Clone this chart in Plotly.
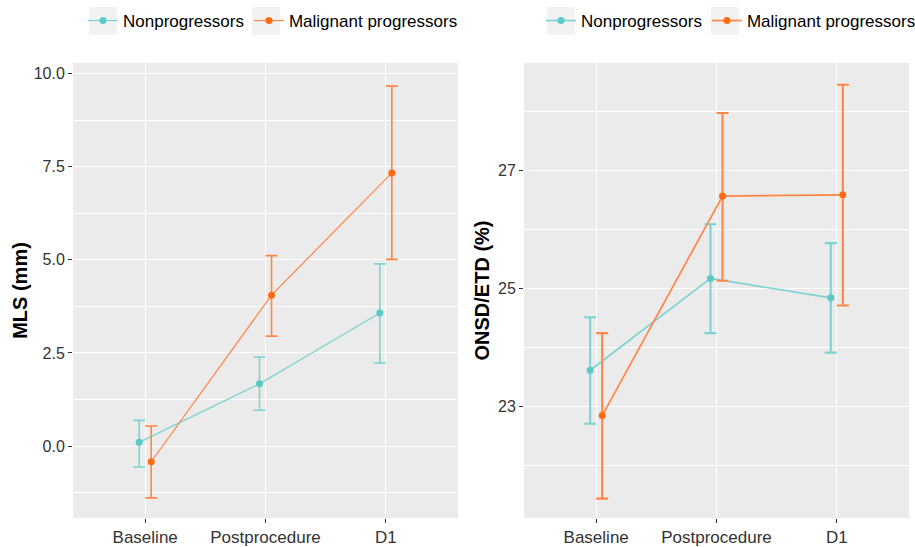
import plotly.graph_objects as go

categories = ["Baseline", "Postprocedure", "D1"]
group_names = ["Nonprogressors", "Malignant progressors"]

# MLS (mm): mean with lower / upper error-bar ends
mls_non_mean = [0.10, 1.67, 3.57]
mls_non_low = [-0.56, 0.96, 2.23]
mls_non_high = [0.69, 2.39, 4.89]
mls_mal_mean = [-0.42, 4.05, 7.33]
mls_mal_low = [-1.39, 2.95, 5.01]
mls_mal_high = [0.54, 5.11, 9.66]

# ONSD/ETD (%)
onsd_non_mean = [23.61, 25.17, 24.84]
onsd_non_low = [22.70, 24.24, 23.91]
onsd_non_high = [24.51, 26.09, 25.77]
onsd_mal_mean = [22.84, 26.57, 26.59]
onsd_mal_low = [21.43, 25.13, 24.71]
onsd_mal_high = [24.24, 27.98, 28.46]

W, H = 915, 547
TEAL_LINE, TEAL_PT = "#7DD3D3", "#5CC8C8"
ORNG_LINE, ORNG_PT = "#FF8646", "#FF6A13"
DODGE = 0.05
FONT = "Liberation Sans, Arial, sans-serif"


def px_x(p):
    return p / W


def px_y(p):
    return 1 - p / H


def make_trace(mean, low, high, name, line_c, pt_c, offset, xa, ya, legend, lw):
    xs = [i + offset for i in range(len(categories))]
    return go.Scatter(
        x=xs, y=mean, name=name, mode="lines+markers",
        line=dict(color=line_c, width=lw),
        marker=dict(color=pt_c, size=7),
        error_y=dict(type="data", symmetric=False,
                     array=[h - m for h, m in zip(high, mean)],
                     arrayminus=[m - l for m, l in zip(mean, low)],
                     color=line_c, thickness=lw + 0.4, width=6),
        xaxis=xa, yaxis=ya, legend=legend, hoverinfo="skip",
    )


fig = go.Figure()
fig.add_trace(make_trace(mls_non_mean, mls_non_low, mls_non_high, group_names[0],
                         TEAL_LINE, TEAL_PT, -DODGE, "x", "y", "legend", 1.2))
fig.add_trace(make_trace(mls_mal_mean, mls_mal_low, mls_mal_high, group_names[1],
                         ORNG_LINE, ORNG_PT, DODGE, "x", "y", "legend", 1.2))
fig.add_trace(make_trace(onsd_non_mean, onsd_non_low, onsd_non_high, group_names[0],
                         TEAL_LINE, TEAL_PT, -DODGE, "x2", "y2", "legend2", 1.7))
fig.add_trace(make_trace(onsd_mal_mean, onsd_mal_low, onsd_mal_high, group_names[1],
                         ORNG_LINE, ORNG_PT, DODGE, "x2", "y2", "legend2", 1.7))

ydom = [px_y(518), px_y(63)]
xcommon = dict(
    range=[-0.6, 2.6], tickvals=list(range(len(categories))), ticktext=categories,
    showgrid=True, gridcolor="white", gridwidth=1.2, zeroline=False,
    ticks="outside", ticklen=4, tickcolor="#333333", tickwidth=1,
    tickfont=dict(size=17, color="#333333", family=FONT), showline=False,
    automargin=False,
)
ycommon = dict(
    showgrid=True, gridcolor="white", gridwidth=1.2, zeroline=False,
    ticks="outside", ticklen=4, tickcolor="#333333", tickwidth=1,
    tickfont=dict(size=16, color="#333333", family=FONT), showline=False,
    title_font=dict(size=20, color="black", family=FONT),
    automargin=False,
)

fig.update_layout(
    width=W, height=H,
    margin=dict(l=0, r=0, t=0, b=0, autoexpand=False),
    paper_bgcolor="white", plot_bgcolor="#EBEBEB",
    font=dict(family=FONT, color="black"),
    xaxis=dict(domain=[px_x(73), px_x(458)], anchor="y", **xcommon),
    xaxis2=dict(domain=[px_x(524), px_x(909)], anchor="y2", **xcommon),
    yaxis=dict(domain=ydom, anchor="x", range=[-1.93, 10.28], tick0=0, dtick=2.5,
               tickformat=".1f", title=dict(text="<b>MLS (mm)</b>", standoff=0),
               minor=dict(showgrid=True, gridcolor="white", gridwidth=0.6, ticks="",
                          tick0=0, dtick=1.25),
               **ycommon),
    yaxis2=dict(domain=ydom, anchor="x2", range=[21.1, 28.83], tick0=23, dtick=2,
                title=dict(text="<b>ONSD/ETD (%)</b>", standoff=3),
                minor=dict(showgrid=True, gridcolor="white", gridwidth=0.6, ticks="",
                           tick0=22, dtick=1),
                **ycommon),
    legend=dict(orientation="h", x=px_x(83), xanchor="left", y=px_y(21), yanchor="middle",
                font=dict(size=17, color="black", family=FONT), bgcolor="rgba(0,0,0,0)",
                itemclick=False, itemdoubleclick=False),
    legend2=dict(orientation="h", x=px_x(541), xanchor="left", y=px_y(21), yanchor="middle",
                 font=dict(size=17, color="black", family=FONT), bgcolor="rgba(0,0,0,0)",
                 itemclick=False, itemdoubleclick=False),
    showlegend=True,
    hovermode=False,
)

# legend key backgrounds (ggplot-style grey boxes)
for x0 in (89, 252, 547, 711):
    fig.add_shape(type="rect", xref="paper", yref="paper",
                  x0=px_x(x0), x1=px_x(x0 + 28), y0=px_y(35), y1=px_y(7),
                  fillcolor="#F2F2F2", line=dict(width=0), layer="below")

# remove the default 8px body margin so the 915x547 figure fills the window exactly
fig.write_html("out.html", config={"displayModeBar": False},
               post_script="document.body.style.margin='0';")
